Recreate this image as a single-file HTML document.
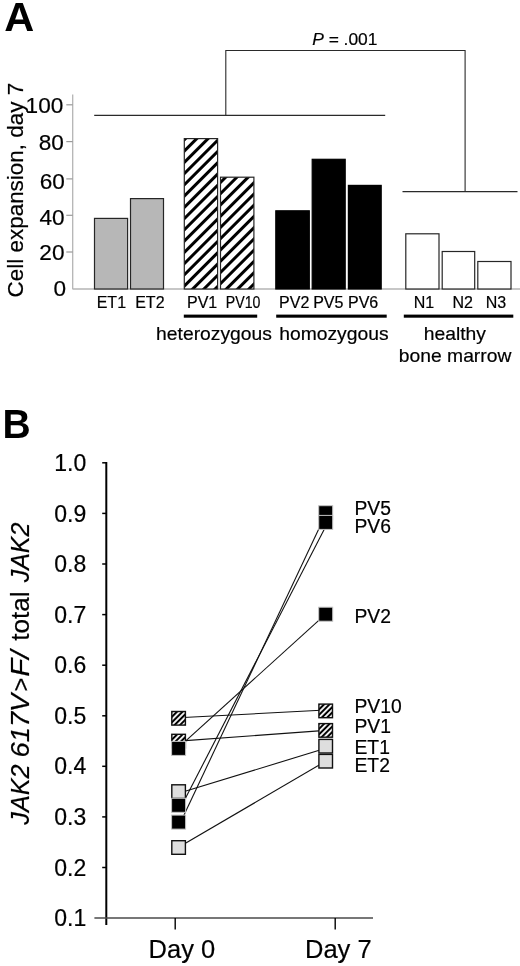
<!DOCTYPE html>
<html><head><meta charset="utf-8">
<style>
html,body{margin:0;padding:0;background:#fff;}
svg{display:block;}
text{font-family:"Liberation Sans",Arial,sans-serif;fill:#000;stroke:#000;stroke-width:0.2px;}
text.b{stroke:none;}
</style></head>
<body>
<svg width="520" height="966" viewBox="0 0 520 966">
<defs>
<pattern id="hA" patternUnits="userSpaceOnUse" width="7.955" height="7.955" patternTransform="rotate(45)">
<rect x="0" y="0" width="7.955" height="7.955" fill="#fff"/>
<rect x="4.97" y="0" width="3.0" height="7.955" fill="#000"/>
</pattern>
<pattern id="hB" patternUnits="userSpaceOnUse" width="3.84" height="3.84" patternTransform="rotate(45)">
<rect x="0" y="0" width="3.84" height="3.84" fill="#000"/>
<rect x="0" y="0" width="0.9" height="3.84" fill="#fff"/>
<rect x="2.94" y="0" width="0.9" height="3.84" fill="#fff"/>
</pattern>
</defs>

<text class="b" x="4.3" y="31.3" font-size="41.5" font-weight="bold">A</text>
<g stroke="#b4b4b4" stroke-width="1.3" fill="none">
<line x1="72.7" y1="94.5" x2="72.7" y2="289.2"/>
<line x1="72.7" y1="289" x2="520" y2="289"/>
</g><g stroke="#9a9a9a" stroke-width="1.2">
<line x1="66.3" y1="104.8" x2="72.7" y2="104.8"/>
<line x1="66.3" y1="141.6" x2="72.7" y2="141.6"/>
<line x1="66.3" y1="178.9" x2="72.7" y2="178.9"/>
<line x1="66.3" y1="215.3" x2="72.7" y2="215.3"/>
<line x1="66.3" y1="252.0" x2="72.7" y2="252.0"/>
</g>
<g font-size="22.6" text-anchor="end">
<text x="63.3" y="113.2">100</text>
<text x="63.9" y="150.2">80</text>
<text x="64.8" y="188.9">60</text>
<text x="64.7" y="225.3">40</text>
<text x="64.5" y="260.1">20</text>
<text x="66.2" y="296.4">0</text>
</g>
<text transform="translate(22.6,297.4) rotate(-90)" font-size="22.45">Cell expansion, day 7</text>
<g stroke="#262626" stroke-width="1.2">
<rect x="94.5" y="218.4" width="33.10" height="70.60" fill="#b7b7b7"/>
<rect x="130.5" y="198.6" width="33.00" height="90.40" fill="#b7b7b7"/>
<rect x="184.3" y="138.6" width="33.30" height="150.40" fill="url(#hA)"/>
<rect x="220.5" y="177.2" width="33.40" height="111.80" fill="url(#hA)"/>
<rect x="275.8" y="210.8" width="33.50" height="78.20" fill="#000" stroke="#000"/>
<rect x="312.2" y="159.3" width="33.00" height="129.70" fill="#000" stroke="#000"/>
<rect x="348.4" y="185.4" width="32.80" height="103.60" fill="#000" stroke="#000"/>
<rect x="405.8" y="233.8" width="33.20" height="55.20" fill="#fff"/>
<rect x="442.2" y="251.5" width="32.50" height="37.50" fill="#fff"/>
<rect x="477.8" y="261.5" width="33.20" height="27.50" fill="#fff"/>
</g>
<g stroke="#2a2a2a" stroke-width="1.1" fill="none">
<polyline points="94.2,115.4 385.2,115.4"/>
<polyline points="225.8,115.4 225.8,50.5 465.1,50.5 465.1,191.6"/>
<polyline points="402.5,191.6 517.5,191.6"/>
</g>
<text x="312.2" y="45" font-size="17.4"><tspan font-style="italic">P</tspan> = .001</text>
<g font-size="16">
<text x="96.7" y="307.6">ET1</text>
<text x="135.2" y="307.6">ET2</text>
<text x="187.0" y="307.6">PV1</text>
<text x="279.1" y="307.6">PV2</text>
<text x="313.2" y="307.6">PV5</text>
<text x="348.0" y="307.6">PV6</text>
<text x="413.8" y="307.6">N1</text>
<text x="452.5" y="307.6">N2</text>
<text x="485.8" y="307.6">N3</text>
<text x="225.8" y="307.6" textLength="34.6" lengthAdjust="spacingAndGlyphs">PV10</text>
</g>
<g fill="#000">
<rect x="183.8" y="314.6" width="73.4" height="3.1"/>
<rect x="276.2" y="314.6" width="110.5" height="3.1"/>
<rect x="403.8" y="314.6" width="109.5" height="3.1"/>
</g>
<g font-size="19.3">
<text transform="translate(156.1,340.1) scale(1,0.965)">heterozygous</text>
<text transform="translate(279.2,339.8) scale(1,0.965)">homozygous</text>
<text transform="translate(423.7,339.6) scale(1,0.965)">healthy</text>
<text transform="translate(398.8,361.8) scale(1,0.965)">bone marrow</text>
</g>
<text class="b" transform="translate(2.6,438.3) scale(0.94,1)" font-size="41.5" font-weight="bold">B</text>
<g stroke="#000" fill="none">
<line x1="106.3" y1="462" x2="106.3" y2="925" stroke-width="2"/>
<g stroke-width="1.5">
<line x1="102.2" y1="462.8" x2="106.3" y2="462.8"/>
<line x1="102.2" y1="513.4" x2="106.3" y2="513.4"/>
<line x1="102.2" y1="564.0" x2="106.3" y2="564.0"/>
<line x1="102.2" y1="614.6" x2="106.3" y2="614.6"/>
<line x1="102.2" y1="665.2" x2="106.3" y2="665.2"/>
<line x1="102.2" y1="715.8" x2="106.3" y2="715.8"/>
<line x1="102.2" y1="766.3" x2="106.3" y2="766.3"/>
<line x1="102.2" y1="816.9" x2="106.3" y2="816.9"/>
<line x1="102.2" y1="867.5" x2="106.3" y2="867.5"/>
</g>
<line x1="94.4" y1="918" x2="373" y2="918" stroke="#4a4a4a" stroke-width="1.6"/>
<line x1="175.2" y1="918" x2="175.2" y2="929.5" stroke-width="1.4"/>
<line x1="335.2" y1="918" x2="335.2" y2="929.5" stroke-width="1.4"/>
</g>
<g font-size="23" text-anchor="end">
<text x="86.3" y="470.9">1.0</text>
<text x="86.3" y="521.5">0.9</text>
<text x="86.3" y="572.1">0.8</text>
<text x="86.3" y="622.7">0.7</text>
<text x="86.3" y="673.3">0.6</text>
<text x="86.3" y="723.9">0.5</text>
<text x="86.3" y="774.4">0.4</text>
<text x="86.3" y="825.0">0.3</text>
<text x="86.3" y="875.6">0.2</text>
<text x="86.3" y="926.2">0.1</text>
</g>
<text transform="translate(28.5,824.7) rotate(-90)" font-size="26.6" font-style="italic" textLength="60.3" lengthAdjust="spacingAndGlyphs">JAK2</text>
<text transform="translate(28.5,757.4) rotate(-90)" font-size="26.6" font-style="italic" textLength="63.7" lengthAdjust="spacingAndGlyphs">617V</text>
<text transform="translate(28.5,691.5) rotate(-90)" font-size="23.5" font-style="normal">&gt;</text>
<text transform="translate(28.5,676.7) rotate(-90)" font-size="26.6" font-style="italic" textLength="26.1" lengthAdjust="spacingAndGlyphs">F/</text>
<text transform="translate(28.5,640.8) rotate(-90)" font-size="26.6" font-style="normal" textLength="49.3" lengthAdjust="spacingAndGlyphs">total</text>
<text transform="translate(28.5,582.3) rotate(-90)" font-size="26.6" font-style="italic" textLength="59.7" lengthAdjust="spacingAndGlyphs">JAK2</text>
<g font-size="25.5"><text x="148.6" y="957.7">Day 0</text><text x="305" y="957.7">Day 7</text></g>
<g stroke="#111" stroke-width="1.1" fill="none">
<line x1="178.6" y1="717.8" x2="325.7" y2="710.0"/>
<line x1="178.6" y1="741.1" x2="325.7" y2="730.4"/>
<line x1="178.6" y1="747.4" x2="325.7" y2="614.2"/>
<line x1="178.6" y1="793.3" x2="325.7" y2="748.3"/>
<line x1="178.6" y1="811.5" x2="325.7" y2="526.5"/>
<line x1="178.6" y1="826.6" x2="325.7" y2="514.3"/>
<line x1="178.6" y1="847.3" x2="325.7" y2="761.2"/>
</g>
<g transform="translate(178.6,718.3)"><rect x="-6.8" y="-6.8" width="13.6" height="13.6" fill="url(#hB)" stroke="#111" stroke-width="1.4"/></g>
<g transform="translate(178.6,741.1)"><rect x="-6.8" y="-6.8" width="13.6" height="13.6" fill="url(#hB)" stroke="#111" stroke-width="1.4"/></g>
<g transform="translate(178.6,748.4)"><rect x="-7" y="-7" width="14" height="14" fill="#000" stroke="#c4c4c4" stroke-width="1"/></g>
<g transform="translate(178.6,791.6)"><rect x="-6.8" y="-6.8" width="13.6" height="13.6" fill="#dedede" stroke="#111" stroke-width="1.4"/></g>
<g transform="translate(178.6,805.3)"><rect x="-7" y="-7" width="14" height="14" fill="#000" stroke="#c4c4c4" stroke-width="1"/></g>
<g transform="translate(178.6,822.1)"><rect x="-7" y="-7" width="14" height="14" fill="#000" stroke="#c4c4c4" stroke-width="1"/></g>
<g transform="translate(178.6,847.5)"><rect x="-6.8" y="-6.8" width="13.6" height="13.6" fill="#dedede" stroke="#111" stroke-width="1.4"/></g>
<g transform="translate(325.7,512.7)"><rect x="-7" y="-7" width="14" height="14" fill="#000" stroke="#c4c4c4" stroke-width="1"/></g>
<g transform="translate(325.7,522.4)"><rect x="-7" y="-7" width="14" height="14" fill="#000" stroke="#c4c4c4" stroke-width="1"/></g>
<g transform="translate(325.7,614.2)"><rect x="-7" y="-7" width="14" height="14" fill="#000" stroke="#c4c4c4" stroke-width="1"/></g>
<g transform="translate(325.7,710.9)"><rect x="-6.8" y="-6.8" width="13.6" height="13.6" fill="url(#hB)" stroke="#111" stroke-width="1.4"/></g>
<g transform="translate(325.7,730.4)"><rect x="-6.8" y="-6.8" width="13.6" height="13.6" fill="url(#hB)" stroke="#111" stroke-width="1.4"/></g>
<g transform="translate(325.7,746.2)"><rect x="-6.8" y="-6.8" width="13.6" height="13.6" fill="#dedede" stroke="#111" stroke-width="1.4"/></g>
<g transform="translate(325.7,761.2)"><rect x="-6.8" y="-6.8" width="13.6" height="13.6" fill="#dedede" stroke="#111" stroke-width="1.4"/></g>
<g font-size="19.3">
<text x="354.5" y="515">PV5</text>
<text x="354.5" y="533">PV6</text>
<text x="354.5" y="622.7">PV2</text>
<text x="354.5" y="713">PV10</text>
<text x="354.5" y="732.7">PV1</text>
<text x="354.5" y="753.9">ET1</text>
<text x="354.5" y="772">ET2</text>
</g>
</svg>
</body></html>
